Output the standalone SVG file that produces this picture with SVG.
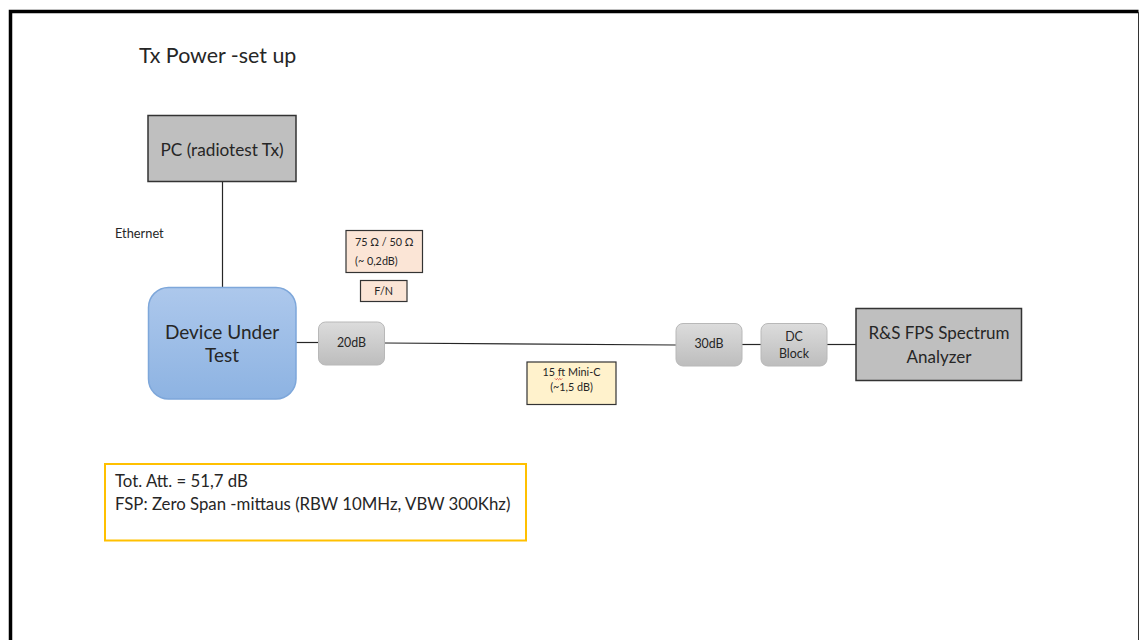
<svg xmlns="http://www.w3.org/2000/svg" width="1141" height="640" viewBox="0 0 1141 640">
  <defs>
    <linearGradient id="dutFill" x1="0" y1="0" x2="0" y2="1">
      <stop offset="0" stop-color="#adc8ec"/>
      <stop offset="1" stop-color="#8db3e2"/>
    </linearGradient>
    <linearGradient id="attFill" x1="0" y1="0" x2="0" y2="1">
      <stop offset="0" stop-color="#dcdcdc"/>
      <stop offset="1" stop-color="#bdbdbd"/>
    </linearGradient>
    <style>
      text { font-family: Lato, "Liberation Sans", sans-serif; fill: #262626; }
      .box { fill: #bfbfbf; stroke: #333; stroke-width: 1.5; }
      .att { fill: url(#attFill); stroke: #b8b8b8; stroke-width: 1; }
      .note { stroke: #333; stroke-width: 1.2; }
      .wire { stroke: #262626; stroke-width: 1.2; fill: none; }
      .mid { font-size: 12.4px; }
      .small { font-size: 10.8px; }
    </style>
  </defs>
  <rect width="1141" height="640" fill="#fff"/>

  <!-- slide frame -->
  <path d="M10.5,650 V11.5 H1138.5" fill="none" stroke="#000" stroke-width="3.5"/>
  <path d="M1138.5,12 V650" fill="none" stroke="#333" stroke-width="1"/>

  <text x="139" y="63" style="font-size:21.4px">Tx Power -set up</text>

  <!-- connectors -->
  <g id="connectors">
    <line class="wire" x1="222.5" y1="181.5" x2="222.5" y2="288"/>
    <line class="wire" x1="296" y1="342.5" x2="318.5" y2="342.5"/>
    <line class="wire" x1="384.5" y1="343" x2="676" y2="345"/>
    <line class="wire" x1="742" y1="344.5" x2="761" y2="344.5"/>
    <line class="wire" x1="827" y1="344.5" x2="856" y2="344.5"/>
  </g>

  <g id="pc">
    <rect class="box" x="148" y="115.5" width="148" height="66"/>
    <text x="222" y="155.5" text-anchor="middle" style="font-size:17.2px">PC (radiotest Tx)</text>
  </g>

  <g id="ethernet-label">
    <text x="115" y="238" style="font-size:12.8px">Ethernet</text>
  </g>

  <g id="dut">
    <rect x="148.5" y="287.5" width="147.5" height="111.5" rx="20" fill="url(#dutFill)" stroke="#7ea7da" stroke-width="1.5"/>
    <text x="222" y="338.5" text-anchor="middle" style="font-size:19px">Device Under</text>
    <text x="222" y="362" text-anchor="middle" style="font-size:19px">Test</text>
  </g>

  <g id="impedance">
    <rect class="note" x="346" y="230.5" width="76.5" height="42" fill="#fbe5d6"/>
    <text class="small" x="355" y="246">75 Ω / 50 Ω</text>
    <text class="small" x="355" y="264.5">(~ 0,2dB)</text>
  </g>

  <g id="fn-adapter">
    <rect class="note" x="360.5" y="280.5" width="46.5" height="21" fill="#fbe5d6"/>
    <text class="small" x="383.7" y="295" text-anchor="middle">F/N</text>
  </g>

  <g id="att20">
    <rect class="att" x="318.5" y="322" width="66" height="43" rx="7"/>
    <text class="mid" x="351.5" y="347" text-anchor="middle">20dB</text>
  </g>

  <g id="cable">
    <rect class="note" x="527" y="362" width="89" height="42.5" fill="#fff2cc"/>
    <text class="small" x="571.5" y="376" text-anchor="middle">15 ft Mini-C</text>
    <text class="small" x="571.5" y="391" text-anchor="middle">(~1,5 dB)</text>
    <path d="M555,378.5 l1.2,1.2 l1.2,-1.2 l1.2,1.2 l1.2,-1.2 l1.2,1.2 l1.2,-1.2" fill="none" stroke="#e03030" stroke-width="0.8"/>
  </g>

  <g id="att30">
    <rect class="att" x="676" y="323.5" width="66" height="42.5" rx="7"/>
    <text class="mid" x="709" y="348" text-anchor="middle">30dB</text>
  </g>

  <g id="dc-block">
    <rect class="att" x="761" y="323.5" width="66" height="42.5" rx="7"/>
    <text class="mid" x="794" y="341" text-anchor="middle">DC</text>
    <text class="mid" x="794" y="357.5" text-anchor="middle">Block</text>
  </g>

  <g id="analyzer">
    <rect class="box" x="856" y="308.5" width="165.5" height="72" stroke="#262626"/>
    <text x="939" y="339" text-anchor="middle" style="font-size:17px">R&amp;S FPS Spectrum</text>
    <text x="939" y="362.5" text-anchor="middle" style="font-size:17px">Analyzer</text>
  </g>

  <g id="summary">
    <rect x="105" y="464" width="421" height="76.5" fill="#fff" stroke="#ffc000" stroke-width="2"/>
    <text x="115" y="486.5" style="font-size:16.8px">Tot. Att. = 51,7 dB</text>
    <text x="115" y="509.5" style="font-size:16.8px">FSP: Zero Span -mittaus (RBW 10MHz, VBW 300Khz)</text>
  </g>
</svg>
